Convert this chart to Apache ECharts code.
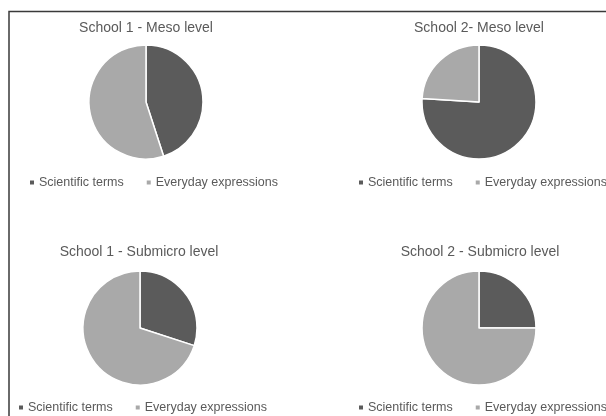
<!DOCTYPE html>
<html>
<head>
<meta charset="utf-8">
<style>
  html, body { margin: 0; padding: 0; background: #ffffff; }
  #chart { width: 606px; height: 416px; }
</style>
<script src="https://cdn.jsdelivr.net/npm/echarts@6/dist/echarts.min.js"></script>
</head>
<body>
<div id="chart"></div>
<script>
// Share of scientific terms vs everyday expressions per school and level
const categories = ['Scientific terms', 'Everyday expressions'];
const panelTitles = [
  'School 1 - Meso level',
  'School 2- Meso level',
  'School 1 - Submicro level',
  'School 2 - Submicro level'
];
const scientificTerms = [45, 76, 30, 25];
const everydayExpressions = [55, 24, 70, 75];

const sliceColors = ['#5b5b5b', '#a9a9a9'];
const textColor = '#5a5a5a';
const fontFamily = '"Liberation Sans", Arial, sans-serif';

// Panel layout: pie centre, title centre line, legend position
const panels = [
  { cx: 146, cy: 102, tx: 146, ty: 16, lx: 28, ly: 176 },
  { cx: 479, cy: 102, tx: 479, ty: 16, lx: 357, ly: 176 },
  { cx: 140, cy: 328, tx: 139, ty: 240, lx: 17, ly: 401 },
  { cx: 479, cy: 328, tx: 480, ty: 240, lx: 357, ly: 401 }
];

const chart = echarts.init(document.getElementById('chart'), null, { renderer: 'canvas' });

const option = {
  backgroundColor: '#ffffff',
  animation: false,
  color: sliceColors,
  title: panels.map((p, i) => ({
    text: panelTitles[i],
    left: p.tx - 5,
    top: p.ty,
    textAlign: 'center',
    textStyle: { color: textColor, fontSize: 14, fontWeight: 'normal', fontFamily: fontFamily }
  })),
  legend: panels.map(p => ({
    data: categories,
    left: p.lx,
    top: p.ly,
    width: 400,
    padding: 0,
    orient: 'horizontal',
    icon: 'rect',
    itemWidth: 6,
    itemHeight: 6,
    itemGap: 21,
    selectedMode: false,
    textStyle: { color: textColor, fontSize: 12.5, fontFamily: fontFamily, padding: [0, 0, 0, -1] }
  })),
  series: panels.map((p, i) => ({
    type: 'pie',
    center: [p.cx, p.cy],
    radius: 57,
    startAngle: 90,
    clockwise: true,
    label: { show: false },
    labelLine: { show: false },
    emphasis: { disabled: true },
    itemStyle: { borderColor: '#ffffff', borderWidth: 1.5 },
    data: [
      { name: categories[0], value: scientificTerms[i] },
      { name: categories[1], value: everydayExpressions[i] }
    ]
  })),
  graphic: [
    {
      type: 'polyline',
      shape: { points: [[9, 416], [9, 11.5], [606, 11.5]] },
      style: { stroke: '#3a3a3a', lineWidth: 1.5, fill: null },
      silent: true
    }
  ]
};

chart.setOption(option);
</script>
</body>
</html>
